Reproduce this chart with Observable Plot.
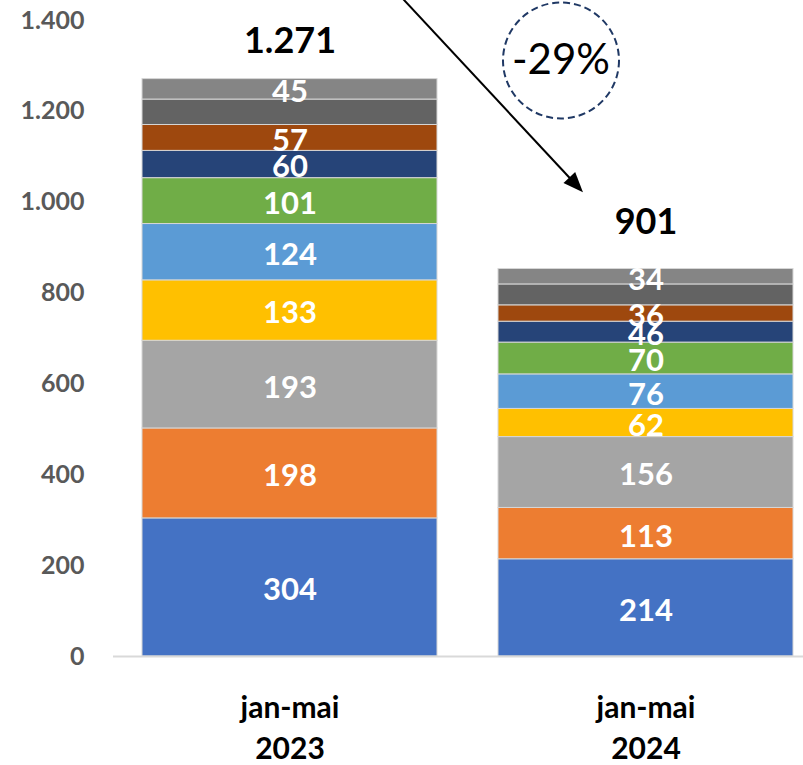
<!DOCTYPE html>
<html>
<head>
<meta charset="utf-8">
<script src="https://cdn.jsdelivr.net/npm/d3@7"></script>
<script src="https://cdn.jsdelivr.net/npm/@observablehq/plot@0.6"></script>
<style>
  html, body { margin: 0; padding: 0; background: #fff; }
  #chart { width: 803px; height: 765px; }
</style>
</head>
<body>
<div id="chart"></div>
<script>
// ---- data ----
const periods = ["jan-mai 2023", "jan-mai 2024"];
const seriesNames = ["Série 1", "Série 2", "Série 3", "Série 4", "Série 5", "Série 6", "Série 7", "Série 8", "Série 9", "Série 10"];
const values2023 = [304, 198, 193, 133, 124, 101, 60, 57, 56, 45];
const values2024 = [214, 113, 156, 62, 76, 70, 46, 36, 46, 34];
const unlabeledSeries = ["Série 9"];
const totals = [1271, 901];
const changeLabel = "-29%";
const yTicks = [0, 200, 400, 600, 800, 1000, 1200, 1400];
const seriesColors = ["#4472C4", "#ED7D31", "#A5A5A5", "#FFC000", "#5B9BD5", "#70AD47", "#264478", "#9E480E", "#636363", "#858585"];

// ---- build table ----
const valuesByPeriod = [values2023, values2024];
const rows = [];
periods.forEach((p, i) => {
  seriesNames.forEach((s, j) => rows.push({period: p, series: s, value: valuesByPeriod[i][j]}));
});
const totalRows = periods.map((p, i) => ({period: p, total: totals[i]}));

const fmt = d3.formatLocale({decimal: ",", thousands: ".", grouping: [3], currency: ["", ""]}).format(",d");
const FONT = "Lato, 'Open Sans', sans-serif";

function arrowMark(index, scales) {
  const x = scales.x, y = scales.y;
  const bw = x.bandwidth ? x.bandwidth() : 295;
  const x1 = x(periods[0]) + 0.851 * bw, y1 = y(1470);
  const x2 = x(periods[1]) + 0.288 * bw, y2 = y(1021);
  const len = Math.hypot(x2 - x1, y2 - y1);
  const ux = (x2 - x1) / len, uy = (y2 - y1) / len;
  const hl = 20, hw = 8;
  const bx = x2 - ux * hl, by = y2 - uy * hl;
  const g = d3.create("svg:g");
  g.append("line").attr("x1", x1).attr("y1", y1).attr("x2", bx + ux * 2).attr("y2", by + uy * 2)
    .attr("stroke", "#000").attr("stroke-width", 2);
  g.append("polygon")
    .attr("points", [[x2, y2], [bx - uy * hw, by + ux * hw], [bx + uy * hw, by - ux * hw]].map(p => p.join(",")).join(" "))
    .attr("fill", "#000");
  return g.node();
}

const chart = Plot.plot({
  width: 803,
  height: 765,
  marginLeft: 113,
  marginRight: 0,
  marginTop: 20,
  marginBottom: 109,
  style: {fontFamily: FONT, background: "#fff", overflow: "visible"},
  x: {domain: periods, paddingInner: 0.1713, paddingOuter: 0.0547, align: 0.74, axis: null},
  y: {domain: [0, 1400], axis: null},
  color: {domain: seriesNames, range: seriesColors},
  marks: [
    Plot.barY(rows, {x: "period", y: "value", fill: "series", stroke: "#d6d6d6", strokeWidth: 1}),
    Plot.ruleY([0], {stroke: "#d9d9d9", strokeWidth: 2}),
    Plot.axisY({ticks: yTicks, tickFormat: fmt, tickSize: 0, tickPadding: 29, fontSize: 25, fontWeight: "bold", color: "#595959", label: null}),
    Plot.text(rows, Plot.stackY({
      x: "period", y: "value", z: "series",
      text: d => unlabeledSeries.includes(d.series) ? "" : String(d.value),
      fill: "#fff", fontSize: 31, fontWeight: "bold", dy: 3
    })),
    Plot.text(totalRows.slice(0, 1), {x: "period", y: "total", text: d => fmt(d.total), fontSize: 36, fontWeight: "bold", fill: "#000", dy: -38}),
    Plot.text(totalRows.slice(1, 2), {x: "period", y: "total", text: d => fmt(d.total), fontSize: 36, fontWeight: "bold", fill: "#000", dy: -25}),
    Plot.text(periods, {x: d => d, frameAnchor: "bottom", text: d => d.replace(" ", "\n"), lineAnchor: "top", lineHeight: 1.38, dy: 32, fontSize: 30, fontWeight: "bold", fill: "#000"}),
    Plot.dot([changeLabel], {x: () => periods[1], y: () => 1312, dx: -85, r: 58, fill: "none", stroke: "#1F3864", strokeWidth: 2, strokeDasharray: "7,4"}),
    Plot.text([changeLabel], {x: () => periods[1], y: () => 1312, dx: -85, text: d => d, fontSize: 42, fill: "#000"}),
    arrowMark
  ]
});
document.getElementById("chart").appendChild(chart);
</script>
</body>
</html>
